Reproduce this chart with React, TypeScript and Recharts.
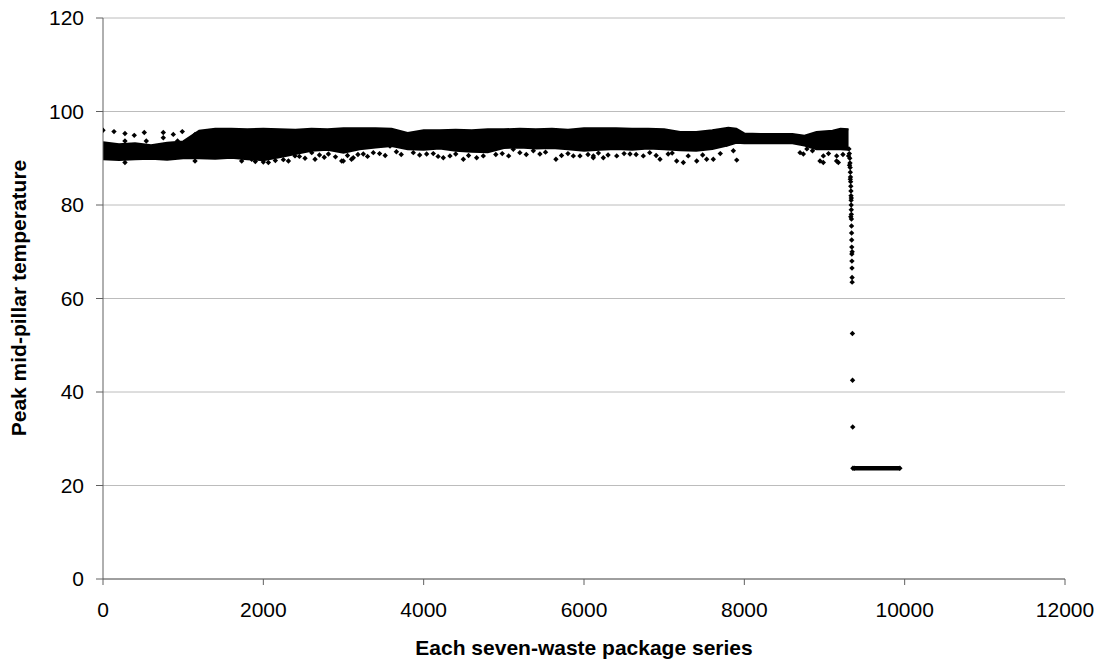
import React from "react";
import { ComposedChart, Area, Scatter, XAxis, YAxis, CartesianGrid } from "recharts";

// dense core of the point cloud (x, lower edge, upper edge)
const bandX = [
  0, 200, 400, 600, 800, 1000, 1200, 1400, 1600, 1800, 2000, 2200, 2400, 2600, 2800,
  3000, 3200, 3400, 3600, 3800, 4000, 4200, 4400, 4600, 4800, 5000, 5200, 5400, 5600,
  5800, 6000, 6200, 6400, 6600, 6800, 7000, 7200, 7400, 7600, 7800, 7900, 8000, 8200,
  8400, 8600, 8750, 8900, 9100, 9200, 9300,
];
const bandLow = [
  89.8, 89.6, 89.8, 89.9, 89.7, 90.0, 90.0, 89.9, 90.1, 89.8, 89.6, 90.2, 90.9, 91.6, 91.8,
  91.2, 91.9, 92.3, 92.6, 91.9, 91.8, 92.1, 91.6, 91.4, 91.3, 92.2, 92.3, 92.1, 92.2,
  91.9, 91.6, 91.8, 92.0, 91.8, 92.1, 91.9, 91.7, 91.6, 92.0, 92.8, 93.3, 93.2, 93.2,
  93.2, 93.2, 92.7, 91.9, 92.0, 91.9, 91.8,
];
const bandHigh = [
  93.4, 93.0, 93.2, 92.8, 93.3, 93.6, 95.9, 96.3, 96.3, 96.2, 96.3, 96.2, 96.1, 96.3, 96.2,
  96.4, 96.4, 96.4, 96.3, 95.4, 96.0, 96.0, 96.1, 96.0, 96.2, 96.2, 96.3, 96.2, 96.3,
  96.1, 96.4, 96.4, 96.4, 96.3, 96.3, 96.2, 95.6, 95.6, 96.0, 96.5, 96.3, 95.3, 95.2,
  95.2, 95.2, 94.8, 95.6, 95.9, 96.3, 96.2,
];

// scattered points above the early band
const upperX = [0, 137, 274, 274, 390, 515, 540, 752, 752, 877, 989, 930, 1148, 1230];
const upperY = [96.0, 95.7, 95.3, 93.7, 94.9, 95.5, 93.7, 95.5, 94.4, 95.1, 95.7, 93.7, 95.1, 94.4];

// scattered points below the band
const lowerX = [
  274, 1148, 1730, 1855, 2063, 2313, 2395, 2604, 2645, 2812, 2978, 3100,
  2998, 3122, 3247, 3372, 3580, 3871, 4037, 4245, 4328, 4495, 4661, 4744, 4827, 5118,
  5368, 5650, 5867, 5950, 6116, 6117, 6241, 6408, 6574, 6740, 6948, 7156, 7239, 7406,
  7530, 7613, 7780, 7863, 7905, 8695, 8736, 8944, 8986, 9152, 9173, 8985, 9151,
  2450, 2520, 2700, 2760, 2900, 3050, 3180, 3300, 3450, 3520, 3660, 3720, 3950, 4120,
  4180, 4400, 4560, 4900, 4980, 5060, 5200, 5280, 5450, 5520, 5720, 5800, 6050, 6180,
  6300, 6500, 6650, 6820, 6900, 7050, 7100, 7300, 7480, 7700, 8780, 8850, 9050, 9230,
  1900, 2000, 2150, 2250,
];
const lowerY = [
  89.1, 89.4, 89.4, 89.8, 89.1, 89.4, 90.5, 91.2, 89.8, 90.9, 89.4, 89.8,
  89.4, 90.1, 90.9, 91.2, 92.6, 91.2, 90.9, 90.1, 90.5, 89.8, 90.1, 90.5, 91.9, 91.9,
  91.6, 89.8, 90.5, 90.5, 90.1, 90.5, 90.1, 90.5, 90.9, 90.5, 89.8, 89.4, 89.1, 89.4,
  89.8, 89.8, 93.0, 91.6, 89.6, 91.2, 90.9, 89.4, 90.5, 90.5, 89.1, 89.1, 89.4,
  90.4, 90.0, 90.7, 90.2, 90.3, 90.6, 90.8, 90.4, 91.0, 90.6, 91.4, 90.8, 90.7, 91.0,
  90.4, 90.9, 90.6, 90.8, 91.0, 90.5, 91.2, 90.8, 90.9, 91.3, 90.6, 91.0, 90.8, 91.1,
  90.7, 91.0, 90.8, 91.2, 90.6, 90.9, 91.1, 90.5, 90.7, 91.0, 92.0, 91.6, 91.0, 90.8,
  89.3, 89.2, 89.5, 89.7,
];

// the fall after ~9300
const dropX = [
  9305, 9310, 9315, 9318, 9320, 9322, 9324, 9326, 9328, 9330, 9331, 9332, 9333, 9334,
  9335, 9336, 9337, 9338, 9339, 9340, 9341, 9342, 9343, 9344, 9345, 9348, 9350, 9352, 9354,
  9300, 9312, 9322, 9334, 9328, 9345,
];
const dropY = [
  92.0, 91.0, 90.0, 89.0, 88.0, 87.0, 86.0, 85.0, 84.0, 83.0, 82.0, 81.0, 80.0, 79.0,
  78.0, 77.0, 75.5, 74.0, 72.5, 71.0, 69.5, 68.0, 66.5, 64.5, 63.5, 52.5, 42.5, 32.5, 23.7,
  90.5, 88.5, 85.5, 81.5, 77.5, 70.0,
];

// flat run at the end
const flatX = [9370, 9940];
const flatY = [23.7, 23.7];

const xTicks = [0, 2000, 4000, 6000, 8000, 10000, 12000];
const yTicks = [0, 20, 40, 60, 80, 100, 120];

const bandData = bandX.map((x, i) => ({ x, range: [bandLow[i], bandHigh[i]] }));
const toPts = (xs: number[], ys: number[]) => xs.map((x, i) => ({ x, y: ys[i] }));
const upperPts = toPts(upperX, upperY);
const lowerPts = toPts(lowerX, lowerY);
const dropPts = toPts(dropX, dropY);
const flatPts = toPts(flatX, flatY);

const FONT = '"Liberation Sans", Arial, sans-serif';

function Diamond(props: any) {
  const { cx, cy } = props;
  if (cx == null || cy == null) return null;
  const r = 2.7;
  return <path d={`M${cx},${cy - r}L${cx + r},${cy}L${cx},${cy + r}L${cx - r},${cy}Z`} fill="#000" />;
}

export default function App() {
  return (
    <div style={{ position: "absolute", left: 0, top: 0, width: 1105, height: 669, background: "#fff", fontFamily: FONT }}>
      <ComposedChart
        width={1105}
        height={669}
        data={bandData}
        margin={{ top: 18, right: 40, left: 0, bottom: 0 }}
      >
        <CartesianGrid vertical={false} stroke="#bcbcbc" strokeWidth={1} />
        <XAxis
          type="number"
          dataKey="x"
          domain={[0, 12000]}
          ticks={xTicks}
          height={90}
          tickSize={6}
          tickMargin={17}
          stroke="#606060"
          tick={{ fill: "#000", fontSize: 21, fontFamily: FONT }}
          allowDataOverflow
        />
        <YAxis
          type="number"
          dataKey="y"
          domain={[0, 120]}
          ticks={yTicks}
          width={103}
          tickSize={7}
          tickMargin={12}
          stroke="#606060"
          tick={{ fill: "#000", fontSize: 21, fontFamily: FONT }}
          allowDataOverflow
        />
        <Area
          type="linear"
          dataKey="range"
          stroke="#000"
          strokeWidth={2}
          fill="#000"
          fillOpacity={1}
          isAnimationActive={false}
        />
        <Scatter data={upperPts} shape={<Diamond />} isAnimationActive={false} />
        <Scatter data={lowerPts} shape={<Diamond />} isAnimationActive={false} />
        <Scatter data={dropPts} shape={<Diamond />} isAnimationActive={false} />
        <Scatter
          data={flatPts}
          shape={<Diamond />}
          line={{ stroke: "#000", strokeWidth: 4.5 }}
          isAnimationActive={false}
        />
      </ComposedChart>
      <div
        style={{
          position: "absolute",
          left: 103,
          width: 962,
          top: 636,
          textAlign: "center",
          fontSize: 21,
          fontWeight: "bold",
          color: "#000",
          whiteSpace: "nowrap",
        }}
      >
        Each seven-waste package series
      </div>
      <div
        style={{
          position: "absolute",
          left: 19,
          top: 298,
          transform: "translate(-50%, -50%) rotate(-90deg)",
          fontSize: 21,
          fontWeight: "bold",
          color: "#000",
          whiteSpace: "nowrap",
        }}
      >
        Peak mid-pillar temperature
      </div>
    </div>
  );
}
